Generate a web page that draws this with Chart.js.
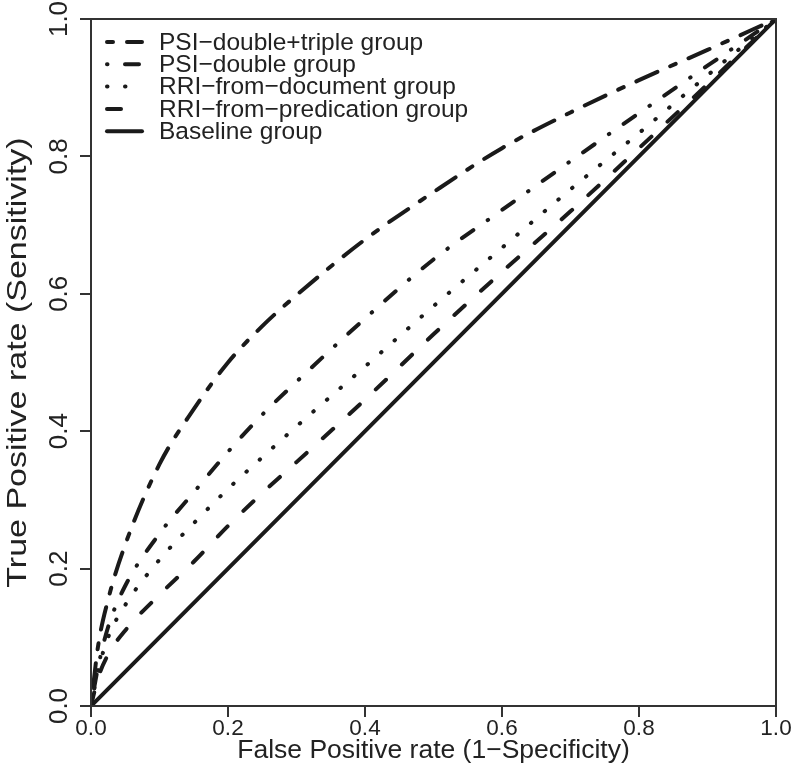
<!DOCTYPE html>
<html>
<head>
<meta charset="utf-8">
<script src="https://cdn.jsdelivr.net/npm/chart.js@4.4.0/dist/chart.umd.min.js"></script>
<style>
  html, body { margin: 0; padding: 0; background: #fff; }
</style>
</head>
<body>
<canvas id="rocChart" width="800" height="773"></canvas>
<script>
// ROC curve values
var fprPoints = [0, 0.01, 0.025, 0.05, 0.1, 0.15, 0.2, 0.25, 0.3, 0.4, 0.5, 0.6, 0.7, 0.8, 0.9, 1];
var tprDoubleTriple = [0, 0.085, 0.155, 0.235, 0.352, 0.432, 0.5, 0.553, 0.598, 0.679, 0.748, 0.812, 0.864, 0.911, 0.955, 1];
var tprDouble = [0, 0.055, 0.115, 0.175, 0.251, 0.311, 0.37, 0.424, 0.472, 0.564, 0.65, 0.722, 0.793, 0.863, 0.932, 1];
var tprDocument = [0, 0.05, 0.10, 0.147, 0.213, 0.266, 0.316, 0.362, 0.407, 0.494, 0.582, 0.667, 0.752, 0.834, 0.918, 1];
var tprPredication = [0, 0.04, 0.075, 0.11, 0.162, 0.21, 0.262, 0.31, 0.355, 0.446, 0.541, 0.632, 0.72, 0.812, 0.905, 1];
var baselineFpr = [0, 1];
var baselineTpr = [0, 1];

var seriesNames = [
    'PSI\u2212double+triple group',
    'PSI\u2212double group',
    'RRI\u2212from\u2212document group',
    'RRI\u2212from\u2212predication group',
    'Baseline group'
];
var axisTicks = [0, 0.2, 0.4, 0.6, 0.8, 1];
var xTitle = 'False Positive rate (1\u2212Specificity)';
var yTitle = 'True Positive rate (Sensitivity)';

var fontFamily = '"Liberation Sans", Arial, Helvetica, sans-serif';
var ink = '#1a1a1a';

function toPoints(xs, ys) {
    return xs.map(function(x, i) { return { x: x, y: ys[i] }; });
}

function makeSet(label, xs, ys, dash) {
    return {
        label: label,
        data: toPoints(xs, ys),
        borderColor: ink,
        backgroundColor: ink,
        borderWidth: 4,
        borderDash: dash,
        borderCapStyle: 'round',
        pointRadius: 0,
        fill: false,
        cubicInterpolationMode: 'monotone'
    };
}

// legend drawn inside the plot, top-left, no frame
var insideLegend = {
    id: 'insideLegend',
    afterDatasetsDraw: function(chart) {
        var ctx = chart.ctx;
        var area = chart.chartArea;
        ctx.save();
        chart.data.datasets.forEach(function(ds, i) {
            var y = area.top + 23 + i * 22.3;
            ctx.beginPath();
            ctx.setLineDash(ds.borderDash || []);
            ctx.lineCap = 'round';
            ctx.lineWidth = ds.borderWidth;
            ctx.strokeStyle = ds.borderColor;
            ctx.moveTo(area.left + 16, y);
            ctx.lineTo(area.left + 51, y);
            ctx.stroke();
            ctx.setLineDash([]);
            ctx.fillStyle = '#222';
            ctx.font = '24.5px ' + fontFamily;
            ctx.textBaseline = 'middle';
            ctx.fillText(ds.label, area.left + 68, y + 1);
        });
        ctx.restore();
    }
};

// full box round the plot area + the y title (drawn slim, like the original)
var plotBox = {
    id: 'plotBox',
    afterDraw: function(chart) {
        var ctx = chart.ctx;
        var a = chart.chartArea;
        ctx.save();
        ctx.strokeStyle = '#333';
        ctx.lineWidth = 2;
        ctx.strokeRect(a.left, a.top, a.right - a.left, a.bottom - a.top);

        ctx.translate(18, (a.top + a.bottom) / 2);
        ctx.rotate(-Math.PI / 2);
        ctx.scale(1, 0.8);
        ctx.fillStyle = '#222';
        ctx.font = '34px ' + fontFamily;
        ctx.textAlign = 'center';
        ctx.textBaseline = 'middle';
        ctx.fillText(yTitle, 0, 0);
        ctx.restore();
    }
};

var ctx = document.getElementById('rocChart').getContext('2d');
var rocChart = new Chart(ctx, {
    type: 'line',
    data: {
        datasets: [
            makeSet(seriesNames[0], fprPoints, tprDoubleTriple, [6, 14, 23, 14]),
            makeSet(seriesNames[1], fprPoints, tprDouble, [0.5, 17.5, 14, 17.5]),
            makeSet(seriesNames[2], fprPoints, tprDocument, [0.5, 17.5]),
            makeSet(seriesNames[3], fprPoints, tprPredication, [14, 22]),
            makeSet(seriesNames[4], baselineFpr, baselineTpr, [])
        ]
    },
    options: {
        responsive: false,
        animation: false,
        layout: { padding: { top: 19, right: 24, left: 0, bottom: 0 } },
        plugins: {
            legend: { display: false },
            tooltip: { enabled: false }
        },
        scales: {
            x: {
                type: 'linear',
                min: 0,
                max: 1,
                afterFit: function(scale) { scale.height = 67; },
                afterBuildTicks: function(scale) {
                    scale.ticks = axisTicks.map(function(v) { return { value: v }; });
                },
                border: { display: false },
                grid: { drawOnChartArea: false, drawTicks: true, tickLength: 11, lineWidth: 2, color: '#333' },
                ticks: {
                    padding: -2,
                    color: '#222',
                    font: { family: fontFamily, size: 22.5 },
                    callback: function(v) { return Number(v).toFixed(1); }
                },
                title: {
                    display: true,
                    text: xTitle,
                    color: '#222',
                    font: { family: fontFamily, size: 26.5 },
                    padding: { top: 6, bottom: 6 }
                }
            },
            y: {
                type: 'linear',
                min: 0,
                max: 1,
                afterFit: function(scale) { scale.width = 91; },
                afterBuildTicks: function(scale) {
                    scale.ticks = axisTicks.map(function(v) { return { value: v }; });
                },
                border: { display: false },
                grid: { drawOnChartArea: false, drawTicks: true, tickLength: 11, lineWidth: 2, color: '#333' },
                ticks: {
                    padding: 2,
                    minRotation: 90,
                    maxRotation: 90,
                    crossAlign: 'center',
                    color: '#222',
                    font: { family: fontFamily, size: 26 },
                    callback: function(v) { return Number(v).toFixed(1); }
                },
                title: { display: false }
            }
        }
    },
    plugins: [insideLegend, plotBox]
});
</script>
</body>
</html>
